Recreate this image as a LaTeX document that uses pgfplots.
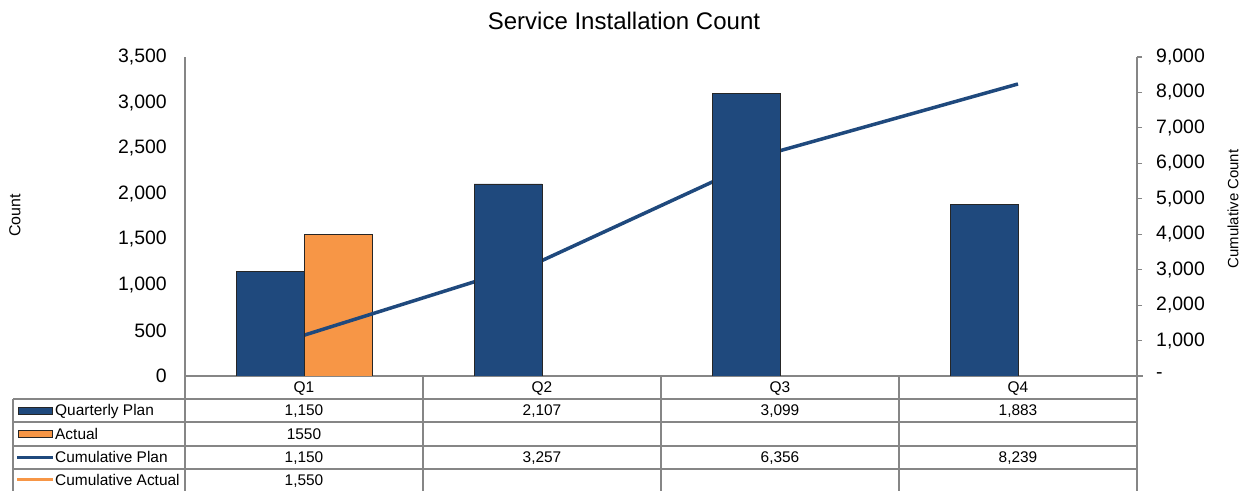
\documentclass[border=0pt]{standalone}
\usepackage{pgfplots}
\pgfplotsset{compat=1.18}
\usepackage{fontspec}
\setmainfont{Liberation Sans}
\definecolor{planblue}{RGB}{31,73,125}
\definecolor{actorange}{RGB}{247,150,70}
\definecolor{axgray}{RGB}{134,134,134}
\newcommand\tabfont{\fontsize{15.5}{18}\selectfont}
\newcommand\tickfont{\fontsize{19.5}{23}\selectfont}
\begin{document}
\begin{tikzpicture}[x=1bp,y=1bp]
\path[use as bounding box] (0,0) rectangle (1249,491);

% axis 1: left scale, Actual bars, axis lines, title
\begin{axis}[
  at={(185bp,115bp)}, anchor=south west, scale only axis,
  width=952bp, height=319bp,
  xmin=-0.5, xmax=3.5, ymin=0, ymax=3500,
  axis x line*=bottom, axis y line*=left,
  axis line style={-, draw=axgray, line width=2bp},
  xtick=\empty, ytick={0,500,...,3500}, major tick length=0pt,
  scaled y ticks=false,
  /pgf/number format/assume math mode=true,
  /pgf/number format/1000 sep={,},
  yticklabel style={font=\tickfont, inner sep=0pt, anchor=east, xshift=-18bp},
  title={Service Installation Count},
  every axis title/.style={at={(axis description cs:0.4611,1)}, anchor=base, yshift=27bp, font=\fontsize{24.1}{28}\selectfont},
  ylabel={Count},
  every axis y label/.style={at={(axis description cs:-0.1786,0.503)}, anchor=center, rotate=90, font=\fontsize{16}{19}\selectfont},
]
\addplot[ybar, bar width=68bp, bar shift=34bp, fill=actorange, draw=black!85, line width=0.8bp] coordinates {(0,1550)};
\end{axis}

% axis 2: right scale, cumulative lines
\begin{axis}[
  at={(185bp,115bp)}, anchor=south west, scale only axis,
  width=952bp, height=319bp,
  xmin=-0.5, xmax=3.5, ymin=0, ymax=9000,
  axis y line*=right, axis x line=none,
  axis line style={-, draw=axgray, line width=2bp},
  xtick=\empty, ytick={0,1000,...,9000},
  yticklabels={-,{1,000},{2,000},{3,000},{4,000},{5,000},{6,000},{7,000},{8,000},{9,000}},
  scaled y ticks=false,
  tick align=outside, major tick length=5bp,
  tick style={draw=axgray, line width=1.2bp},
  yticklabel style={font=\tickfont, inner sep=0pt, anchor=west, xshift=14bp},
  ylabel={Cumulative Count},
  every axis y label/.style={at={(axis description cs:1.1008,0.5235)}, anchor=center, rotate=90, font=\fontsize{15}{18}\selectfont},
]
\addplot[planblue, line width=3.5bp] coordinates {(0,1150) (1,3257) (2,6356) (3,8239)};
\addplot[actorange, line width=3.5bp] coordinates {(0,1550)};
\end{axis}

% axis 3: left scale, Quarterly Plan bars on top
\begin{axis}[
  at={(185bp,115bp)}, anchor=south west, scale only axis,
  width=952bp, height=319bp,
  xmin=-0.5, xmax=3.5, ymin=0, ymax=3500,
  hide axis,
]
\addplot[ybar, bar width=68bp, bar shift=-34bp, fill=planblue, draw=black!85, line width=0.8bp] coordinates {(0,1150) (1,2107) (2,3099) (3,1883)};
\end{axis}

% extension of the category axis line
\draw[axgray, line width=2bp] (1136,115) -- (1143,115);

% data table
\draw[axgray, line width=1.3bp]
  (185,115)--(185,0) (423,115)--(423,0) (661,115)--(661,0) (899,115)--(899,0) (1137,115)--(1137,0)
  (13,92)--(1137,92) (13,69)--(1137,69) (13,45)--(1137,45) (13,22)--(1137,22)
  (13,92)--(13,0);

% legend keys
\filldraw[fill=planblue, draw=black!85, line width=0.8bp] (18,77) rectangle (52,84);
\filldraw[fill=actorange, draw=black!85, line width=0.8bp] (18,53.5) rectangle (52,60.5);
\draw[planblue, line width=3bp] (17,33.5) -- (53,33.5);
\draw[actorange, line width=3bp] (17,11) -- (53,11);

\begin{scope}[every node/.style={font=\tabfont, inner sep=0pt}]
\node[anchor=base west] at (55,75.0) {Quarterly Plan};
\node[anchor=base west] at (55,51.5) {Actual};
\node[anchor=base west] at (55,28.0) {Cumulative Plan};
\node[anchor=base west] at (55,5.5) {Cumulative Actual};
% header
\node[anchor=base] at (304,98.0) {Q1};
\node[anchor=base] at (542,98.0) {Q2};
\node[anchor=base] at (780,98.0) {Q3};
\node[anchor=base] at (1018,98.0) {Q4};
% Quarterly Plan
\node[anchor=base] at (304,75.0) {1,150};
\node[anchor=base] at (542,75.0) {2,107};
\node[anchor=base] at (780,75.0) {3,099};
\node[anchor=base] at (1018,75.0) {1,883};
% Actual
\node[anchor=base] at (304,51.5) {1550};
% Cumulative Plan
\node[anchor=base] at (304,28.0) {1,150};
\node[anchor=base] at (542,28.0) {3,257};
\node[anchor=base] at (780,28.0) {6,356};
\node[anchor=base] at (1018,28.0) {8,239};
% Cumulative Actual
\node[anchor=base] at (304,5.5) {1,550};
\end{scope}
\end{tikzpicture}
\end{document}
